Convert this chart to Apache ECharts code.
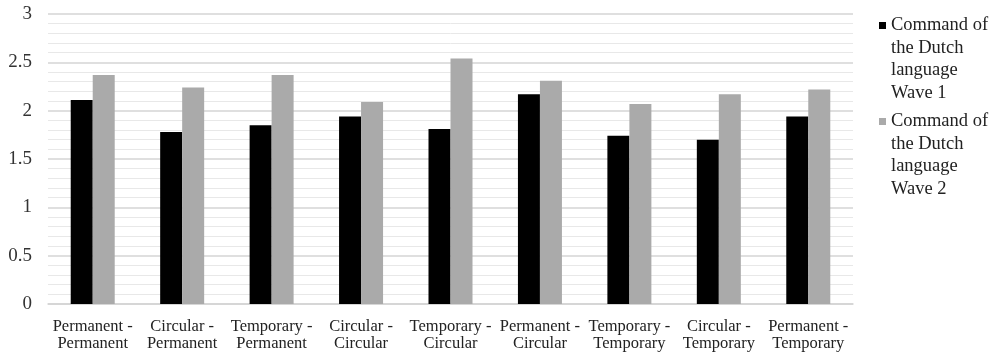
<!DOCTYPE html>
<html>
<head>
<meta charset="utf-8">
<script src="https://cdn.jsdelivr.net/npm/echarts@6/dist/echarts.min.js"></script>
<style>html,body{margin:0;padding:0;background:#fff;}#chart{width:994px;height:354px;}</style>
</head>
<body>
<div id="chart"></div>
<script>
const categories = [
  "Permanent -\nPermanent", "Circular -\nPermanent", "Temporary -\nPermanent",
  "Circular -\nCircular", "Temporary -\nCircular", "Permanent -\nCircular",
  "Temporary -\nTemporary", "Circular -\nTemporary", "Permanent -\nTemporary"
];
const wave1 = [2.11, 1.78, 1.85, 1.94, 1.81, 2.17, 1.74, 1.70, 1.94];
const wave2 = [2.37, 2.24, 2.37, 2.09, 2.54, 2.31, 2.07, 2.17, 2.22];
const seriesNames = ["Command of the Dutch language Wave 1", "Command of the Dutch language Wave 2"];
const legendLabels = ["Command of\nthe Dutch\nlanguage\nWave 1", "Command of\nthe Dutch\nlanguage\nWave 2"];

const chart = echarts.init(document.getElementById('chart'));
const font = '"Liberation Serif", "Times New Roman", serif';
chart.setOption({
  animation: false,
  backgroundColor: '#fff',
  grid: { left: 48, right: 141, top: 14, bottom: 50, containLabel: false },
  legend: {
    orient: 'vertical',
    left: 879,
    top: 14,
    padding: 0,
    itemGap: 6,
    itemWidth: 7,
    itemHeight: 90,
    icon: 'path://M0,0M0,8L7,8L7,15L0,15ZM0,90',
    data: seriesNames,
    formatter: function (name) { return legendLabels[seriesNames.indexOf(name)]; },
    textStyle: { fontFamily: font, fontSize: 18.5, lineHeight: 22.5, color: '#222' }
  },
  xAxis: {
    type: 'category',
    data: categories,
    axisLine: { show: true, lineStyle: { color: '#d4d4d4', width: 1.5 } },
    axisTick: { show: false },
    axisLabel: { interval: 0, margin: 14, fontFamily: font, fontSize: 16.5, lineHeight: 17, color: '#222' }
  },
  yAxis: {
    type: 'value',
    min: 0, max: 3, interval: 0.5,
    axisLine: { show: false },
    axisTick: { show: false },
    axisLabel: { margin: 16, fontFamily: font, fontSize: 19, color: '#333' },
    splitLine: { show: true, lineStyle: { color: '#d4d4d4', width: 1.5 } },
    minorTick: { show: false, splitNumber: 5 },
    minorSplitLine: { show: true, lineStyle: { color: '#e8e8e8', width: 1 } }
  },
  series: [
    { name: seriesNames[0], type: 'bar', data: wave1, barWidth: 22, barGap: '0%', itemStyle: { color: '#000000' } },
    { name: seriesNames[1], type: 'bar', data: wave2, barWidth: 22, barGap: '0%', itemStyle: { color: '#aaaaaa' } }
  ]
});
</script>
</body>
</html>
